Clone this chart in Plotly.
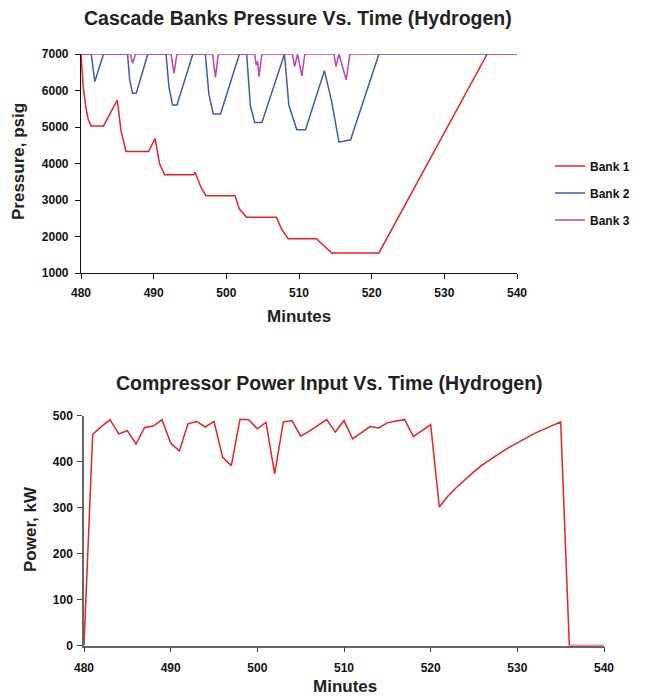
import plotly.graph_objects as go

# ---------------- Data: Cascade bank pressures (psig) ----------------
bank1_t = [480, 480.3, 480.7, 481.0, 481.4, 483.1, 485.0, 485.5, 486.2, 489.3, 490.2, 490.8, 491.5,
           495.5, 495.7, 496.5, 497.2, 501.2, 501.8, 502.8, 506.9, 507.6, 508.5, 512.4, 514.5,
           521.0, 535.9, 540]
bank1_p = [7000, 6100, 5500, 5200, 5030, 5030, 5740, 4900, 4330, 4330, 4685, 4000, 3690,
           3690, 3760, 3350, 3117, 3117, 2750, 2524, 2524, 2200, 1941, 1941, 1549,
           1549, 7000, 7000]

bank2_t = [480, 481.4, 481.9, 483.1, 486.4, 486.7, 487.1, 487.6, 489.2, 491.7, 492.1, 492.6, 493.2,
           495.4, 497.1, 497.6, 498.2, 499.2, 501.8, 502.8, 503.3, 503.9, 504.9, 508.0, 508.6,
           509.7, 510.9, 513.5, 514.5, 515.5, 517.1, 521.0, 536.0]
bank2_p = [7000, 7000, 6243, 7000, 7000, 6300, 5924, 5924, 7000, 7000, 6100, 5605, 5605,
           7000, 7000, 5900, 5359, 5359, 7000, 7000, 5600, 5122, 5122, 7000, 5600,
           4922, 4922, 6544, 5696, 4584, 4650, 7000, 7000]

bank3_t = [480, 486.8, 487.1, 487.5, 492.4, 492.8, 493.2, 498.1, 498.5, 498.9, 503.9, 504.1, 504.3,
           504.5, 504.9, 509.1, 509.4, 509.8, 510.4, 510.8, 514.8, 515.1, 515.5, 516.5, 517.0, 521.0]
bank3_p = [7000, 7000, 6745, 7000, 7000, 6471, 7000, 7000, 6362, 7000, 7000, 6700, 6800,
           6380, 7000, 7000, 6654, 7000, 6398, 7000, 7000, 6654, 7000, 6289, 7000, 7000]

# ---------------- Data: Compressor power (kW) ----------------
power_t = list(range(480, 537)) + [540]
power_kw = [0, 459, 476, 491, 460, 467, 438, 474, 477, 491,
            440, 423, 482, 487, 475, 487, 409, 391, 492, 491,
            471, 485, 373, 486, 489, 455, 466, 479, 491, 464,
            489, 449, 463, 476, 473, 484, 488, 491, 454, 467,
            480, 301, 325, 344, 362, 378, 393, 406, 418, 430,
            441, 451, 461, 470, 478, 486, 0, 0]

RED = "#EE1F26"
BLUE = "#3C5DAE"
MAGENTA = "#C444A8"
FONT = "Arial, Liberation Sans, sans-serif"

fig = go.Figure()
fig.add_trace(go.Scatter(x=bank1_t, y=bank1_p, mode="lines", name="Bank 1",
                         line=dict(color=RED, width=1.5), xaxis="x", yaxis="y", legendgroup="a"))
fig.add_trace(go.Scatter(x=bank2_t, y=bank2_p, mode="lines", name="Bank 2",
                         line=dict(color=BLUE, width=1.5), xaxis="x", yaxis="y", legendgroup="b"))
fig.add_trace(go.Scatter(x=bank3_t, y=bank3_p, mode="lines", name="Bank 3",
                         line=dict(color=MAGENTA, width=1.5), xaxis="x", yaxis="y", legendgroup="c"))
fig.add_trace(go.Scatter(x=power_t, y=power_kw, mode="lines", name="Power",
                         line=dict(color=RED, width=1.5), xaxis="x2", yaxis="y2", showlegend=False))

W, H = 646, 696
def px_x(p): return p / W
def px_y(p): return 1 - p / H

tickfont = dict(family=FONT, size=12, color="#111111", weight="bold")
axis_common = dict(showgrid=False, zeroline=False, showline=True, ticks="outside",
                   ticklen=5, tickfont=tickfont, fixedrange=True, automargin=False)

fig.update_layout(
    template="none",
    width=W, height=H,
    margin=dict(l=0, r=0, t=0, b=0, pad=0),
    paper_bgcolor="white", plot_bgcolor="white",
    font=dict(family=FONT, color="#111111"),
    xaxis=dict(domain=[px_x(81), px_x(517)], range=[480, 540], dtick=10, tick0=480,
               anchor="y", linecolor="#111111", tickcolor="#111111", linewidth=1.2,
               ticklabelstandoff=3, **axis_common),
    yaxis=dict(domain=[px_y(273), px_y(54)], range=[1000, 7000], dtick=1000, tickformat="d",
               anchor="x", linecolor="#111111", tickcolor="#111111", linewidth=1.2,
               ticklabelstandoff=4, **axis_common),
    xaxis2=dict(domain=[px_x(84), px_x(604)], range=[480, 540], dtick=10, tick0=480,
                anchor="y2", linecolor="#666666", tickcolor="#444444", linewidth=1.5,
                ticklabelstandoff=5, **axis_common),
    yaxis2=dict(domain=[px_y(645.5), px_y(415.5)], range=[0, 500], dtick=100,
                anchor="x2", linecolor="#666666", tickcolor="#444444", linewidth=1.5,
                ticklabelstandoff=2, **axis_common),
    legend=dict(x=px_x(550), y=px_y(193), xanchor="left", yanchor="middle",
                font=dict(family=FONT, size=12, color="#111111", weight="bold"),
                tracegroupgap=8, itemwidth=30, bgcolor="rgba(0,0,0,0)", borderwidth=0),
    showlegend=True,
)

def ann(text, x, y, size, angle=0):
    fig.add_annotation(text=f"<b>{text}</b>", x=px_x(x), y=px_y(y), xref="paper", yref="paper",
                       showarrow=False, textangle=angle, xanchor="center", yanchor="middle",
                       font=dict(family=FONT, size=size, color="#222222"))

ann("Cascade Banks Pressure Vs. Time (Hydrogen)", 298, 18, 19.5)
ann("Pressure, psig", 19, 162, 17, -90)
ann("Minutes", 299, 316, 17)
ann("Compressor Power Input Vs. Time (Hydrogen)", 329, 383, 19.5)
ann("Power, kW", 30, 529, 17, -90)
ann("Minutes", 345, 686, 17)

fig.write_html("out.html", config={"displayModeBar": False},
               post_script="document.body.style.margin='0';document.body.style.overflow='hidden';")
